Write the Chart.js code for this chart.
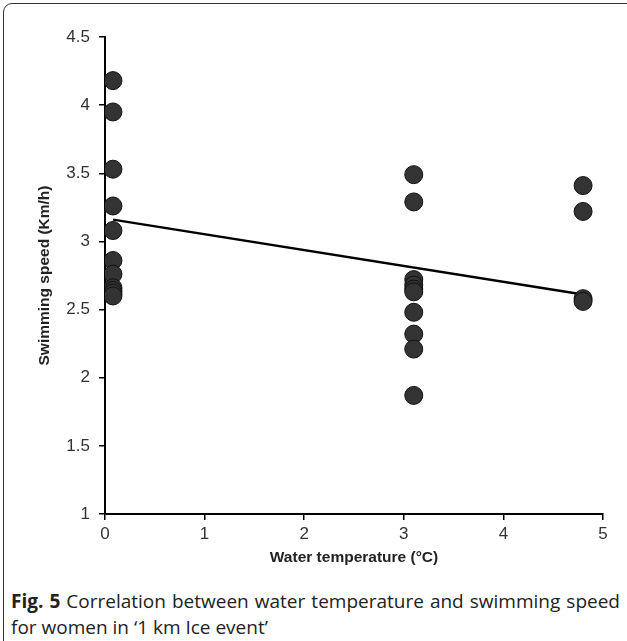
<!DOCTYPE html>
<html>
<head>
<meta charset="utf-8">
<script src="https://cdn.jsdelivr.net/npm/chart.js@4.4.0/dist/chart.umd.min.js"></script>
<style>
  html, body { margin: 0; padding: 0; background: #fff; }
  #wrap { position: relative; width: 627px; height: 641px; overflow: hidden; background: #fff; }
  #frame { position: absolute; left: 3px; top: 3px; width: 700px; height: 700px; border: 1.5px solid #333; border-radius: 9px; box-sizing: border-box; }
  #chartBox { position: absolute; left: 0; top: 0; width: 627px; height: 580px; }
  .cap { position: absolute; left: 11px; font-family: "Open Sans", sans-serif; font-size: 19px; line-height: 26px; color: #222; white-space: nowrap; }
  #cap1 { top: 588px; width: 609px; text-align: justify; text-align-last: justify; white-space: normal; }
  #cap2 { top: 614px; }
  .cap b { font-weight: 700; }
</style>
</head>
<body>
<div id="wrap">
  <div id="frame"></div>
  <div id="chartBox"><canvas id="c" width="627" height="580"></canvas></div>
  <div class="cap" id="cap1"><b>Fig. 5</b> Correlation between water temperature and swimming speed</div>
  <div class="cap" id="cap2">for women in ‘1 km Ice event’</div>
</div>
<script>
// Data
const tempGroupA = 0.08;
const speedGroupA = [4.18, 3.95, 3.53, 3.26, 3.08, 2.86, 2.76, 2.66, 2.64, 2.62, 2.60];
const tempGroupB = 3.1;
const speedGroupB = [3.49, 3.29, 2.72, 2.68, 2.65, 2.63, 2.48, 2.32, 2.21, 1.87];
const tempGroupC = 4.8;
const speedGroupC = [3.41, 3.22, 2.58, 2.56];
const trendX = [0.08, 4.8];
const trendY = [3.16, 2.61];
const xTitle = "Water temperature (°C)";
const yTitle = "Swimming speed (Km/h)";

const points = []
  .concat(speedGroupA.map(v => ({x: tempGroupA, y: v})))
  .concat(speedGroupB.map(v => ({x: tempGroupB, y: v})))
  .concat(speedGroupC.map(v => ({x: tempGroupC, y: v})));
const trend = trendX.map((x, i) => ({x: x, y: trendY[i]}));

const tickFont = { family: "'Liberation Sans', Arial, sans-serif", size: 17 };
const titleFont = { family: "'Liberation Sans', Arial, sans-serif", size: 15.5, weight: 'bold' };

new Chart(document.getElementById('c'), {
  type: 'scatter',
  data: {
    datasets: [
      { type: 'line', data: trend, borderColor: '#000', borderWidth: 2.5, pointRadius: 0, fill: false, order: 2 },
      { data: points, backgroundColor: '#333333', borderColor: '#111', borderWidth: 1, pointRadius: 9, pointHoverRadius: 9, order: 1 }
    ]
  },
  options: {
    responsive: false,
    animation: false,
    events: [],
    layout: { padding: { top: 37, right: 24, left: 0, bottom: 0 } },
    plugins: { legend: { display: false }, tooltip: { enabled: false } },
    scales: {
      x: {
        type: 'linear', min: 0, max: 5,
        ticks: { stepSize: 1, color: '#333', font: tickFont, padding: 4 },
        grid: { display: true, drawOnChartArea: false, drawTicks: true, tickLength: 6, color: '#000', lineWidth: 1.5 },
        border: { display: true, color: '#000', width: 2 },
        title: { display: true, text: xTitle, color: '#222', font: titleFont, padding: { top: 0, bottom: 13 } },
        afterFit: s => { s.height = 66; }
      },
      y: {
        type: 'linear', min: 1, max: 4.5,
        ticks: { stepSize: 0.5, color: '#333', font: tickFont, padding: 9, callback: v => String(v) },
        grid: { display: true, drawOnChartArea: false, drawTicks: true, tickLength: 6, color: '#000', lineWidth: 1.5 },
        border: { display: true, color: '#000', width: 2 },
        title: { display: true, text: yTitle, color: '#222', font: titleFont, padding: { top: 35, bottom: 0 } },
        afterFit: s => { s.width = 105; }
      }
    }
  }
});
</script>
</body>
</html>
